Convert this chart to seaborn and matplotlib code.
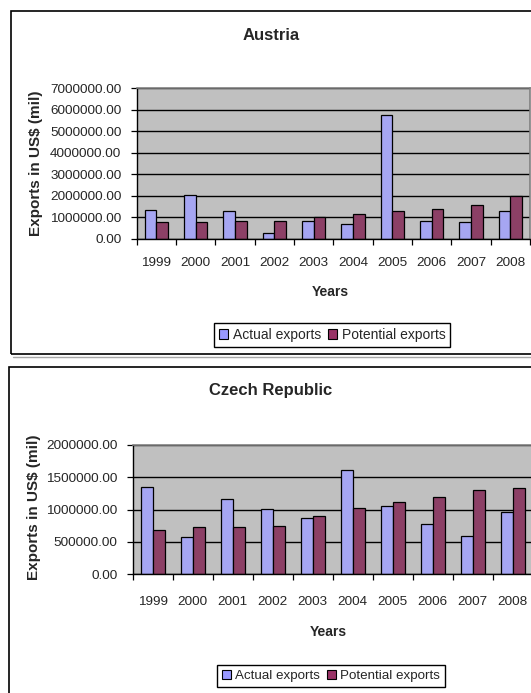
import numpy as np
import pandas as pd
import matplotlib
matplotlib.use("Agg")
import matplotlib.pyplot as plt
from matplotlib.patches import Patch, Rectangle
from matplotlib.lines import Line2D
import seaborn as sns

# Data
years = ["1999", "2000", "2001", "2002", "2003", "2004", "2005", "2006", "2007", "2008"]
series_names = ["Actual exports", "Potential exports"]

austria_actual = [1340000, 2050000, 1270000, 250000, 820000, 700000, 5780000, 820000, 760000, 1270000]
austria_potential = [760000, 760000, 820000, 820000, 990000, 1160000, 1270000, 1400000, 1570000, 1990000]

czech_actual = [1352000, 576000, 1157000, 1003000, 874000, 1604000, 1049000, 771000, 596000, 961000]
czech_potential = [684000, 725000, 725000, 746000, 895000, 1028000, 1116000, 1198000, 1306000, 1326000]

colors = ["#9999FF", "#993366"]

sns.set_theme(style="white")
plt.rcParams['font.family'] = ['Liberation Sans', 'DejaVu Sans']

W, H = 531, 693


def to_long(actual, potential):
    """Builds a long-form frame for seaborn."""
    return pd.DataFrame({
        'Year': years * 2,
        'Exports': actual + potential,
        'Series': [series_names[0]] * len(years) + [series_names[1]] * len(years),
    })


def fig_box(left, top, right, bottom):
    """Converts pixel box (from top-left) to figure fractions."""
    return [left / W, 1 - bottom / H, (right - left) / W, (bottom - top) / H]


def draw_chart(fig, df, rect, yticks, title, title_xy, ylab_xy, xlab_xy, leg_xy, xpad, leg_fs):
    ax = fig.add_axes(fig_box(*rect))
    ax.set_facecolor('#C0C0C0')
    ax.set_axisbelow(True)
    ax.yaxis.grid(True, color='black', linewidth=1.0)

    sns.barplot(data=df, x='Year', y='Exports', hue='Series', palette=colors,
                width=0.6, edgecolor='black', linewidth=0.9, ax=ax, legend=False)

    ax.set_xlim(-0.5, len(years) - 0.5)
    ax.set_ylim(yticks[0], yticks[-1])
    ax.set_yticks(yticks)
    ax.set_yticklabels([f"{v:.2f}" for v in yticks], fontsize=9.7)
    ax.tick_params(axis='y', direction='out', length=4, width=0.9, color='black',
                   pad=7, left=True)

    ax.set_xticks(np.arange(len(years)))
    ax.set_xticklabels(years, fontsize=9.7)
    ax.tick_params(axis='x', which='major', length=0, pad=xpad)
    ax.set_xticks(np.arange(-0.5, len(years)), minor=True)
    ax.tick_params(axis='x', which='minor', direction='out', length=4, width=0.9,
                   color='black', bottom=True)

    ax.set_xlabel('')
    ax.set_ylabel('')
    for side in ['left', 'bottom']:
        ax.spines[side].set_color('black')
        ax.spines[side].set_linewidth(1.0)
    for side in ['top', 'right']:
        ax.spines[side].set_color('#808080')
        ax.spines[side].set_linewidth(1.2)

    fig.text(title_xy[0] / W, 1 - title_xy[1] / H, title, ha='center', va='center',
             fontsize=12, fontweight='bold')
    fig.text(ylab_xy[0] / W, 1 - ylab_xy[1] / H, 'Exports in US$ (mil)', ha='center',
             va='center', rotation=90, fontsize=11, fontweight='bold')
    fig.text(xlab_xy[0] / W, 1 - xlab_xy[1] / H, 'Years', ha='center', va='center',
             fontsize=10, fontweight='bold')

    handles = [Patch(facecolor=c, edgecolor='black', linewidth=0.8) for c in colors]
    fig.legend(handles, series_names, loc='center',
               bbox_to_anchor=(leg_xy[0] / W, 1 - leg_xy[1] / H), ncol=2,
               frameon=True, fancybox=False, edgecolor='black', framealpha=1,
               fontsize=leg_fs, handlelength=0.7, handleheight=0.7, handletextpad=0.3,
               columnspacing=0.5, borderpad=0.35, borderaxespad=0)
    return ax


fig = plt.figure(figsize=(W / 100, H / 100), dpi=100)
fig.patch.set_facecolor('white')

# Outer chart borders, with a faint shadow under the top one
fig.add_artist(Line2D([13 / W, 1.0], [1 - 356.5 / H, 1 - 356.5 / H],
                      transform=fig.transFigure, color='#A8A8A8', linewidth=1.0))
fig.add_artist(Rectangle((11 / W, 1 - 354 / H), (545 - 11) / W, (354 - 11) / H,
                         transform=fig.transFigure, fill=False, edgecolor='black', linewidth=1.2))
fig.add_artist(Rectangle((9 / W, 1 - 710 / H), (545 - 9) / W, (710 - 367) / H,
                         transform=fig.transFigure, fill=False, edgecolor='black', linewidth=1.2))

draw_chart(fig, to_long(austria_actual, austria_potential),
           (136.7, 88.3, 530, 238.7), np.arange(0, 7000001, 1000000),
           'Austria', (271, 36), (36, 163), (330, 292), (332, 335), 13.5, 10)

draw_chart(fig, to_long(czech_actual, czech_potential),
           (132.7, 444.7, 532.7, 574.3), np.arange(0, 2000001, 500000),
           'Czech Republic', (271, 391), (34, 507), (328, 632), (331, 676), 15.5, 9.6)

fig.savefig('out.png', dpi=100)
